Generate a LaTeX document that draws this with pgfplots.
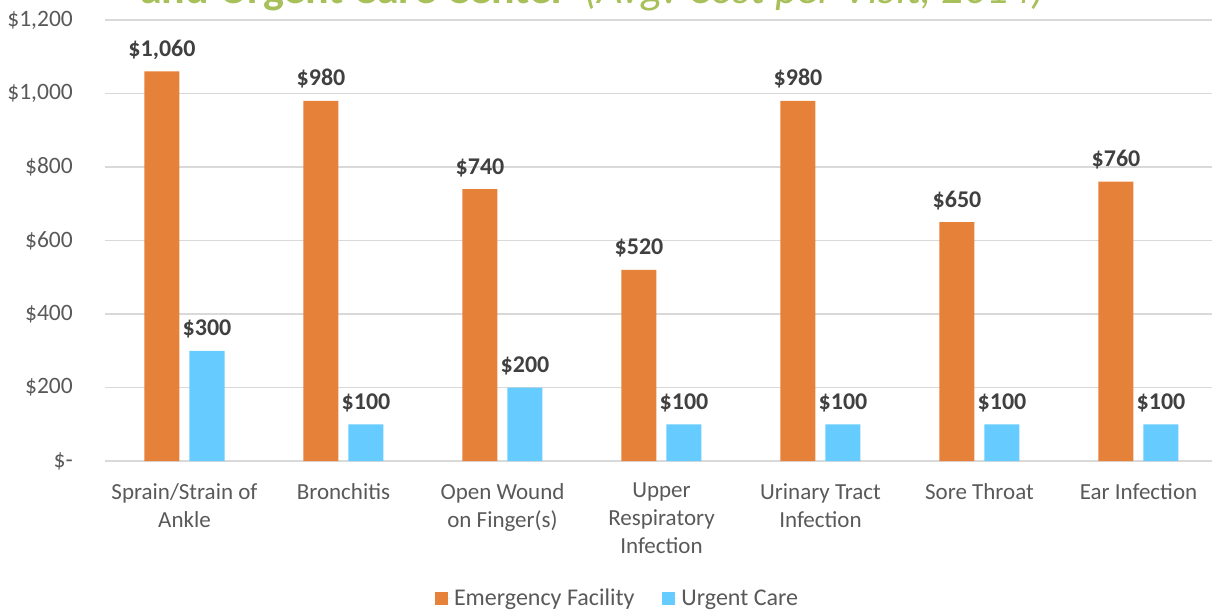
\documentclass[border=0pt]{standalone}
\usepackage{pgfplots}
\pgfplotsset{compat=1.18}
\usepackage{fontspec}
\setmainfont{Carlito}
\definecolor{orng}{HTML}{E6813A}
\definecolor{lblue}{HTML}{66CCFF}
\definecolor{tgray}{HTML}{595959}
\definecolor{lgray}{HTML}{404040}
\definecolor{tgreen}{HTML}{A8C05A}
\definecolor{grid}{HTML}{D9D9D9}
\begin{document}
\begin{tikzpicture}[x=1pt,y=1pt]
\useasboundingbox (0,0) rectangle (1212,611);
\node[anchor=base west, inner sep=0, text=tgreen, font=\fontsize{44}{48}\selectfont] at (140,607)
  {\textbf{and Urgent Care Center\,} \textit{(Avg. Cost per Visit, 2014)\,}};
\begin{axis}[
  at={(105pt,150pt)}, anchor=south west,
  scale only axis, width=1113pt, height=441pt,
  xmin=-0.5, xmax=6.5, ymin=0, ymax=1200,
  ybar=10pt, bar width=35pt,
  axis line style={draw=none},
  major tick length=0pt,
  ymajorgrids, major grid style={draw=grid, line width=1.2pt},
  ytick={0,200,400,600,800,1000,1200},
  yticklabels={\$-,\$200,\$400,\$600,\$800,\$1{,}000,\$1{,}200},
  yticklabel style={font=\fontsize{23.5}{26}\selectfont, text=tgray, inner sep=0pt, anchor=east, xshift=-32pt},
  xtick={0,1,2,3,4,5,6},
  xticklabels={{Sprain/Strain of\\Ankle},{Bronchitis},{Open Wound\\on Finger(s)},{Upper\\Respiratory\\Infection},{Urinary Tract\\Infection},{Sore Throat},{Ear Infection}},
  xticklabel style={font=\fontsize{23}{28}\selectfont, text=tgray, align=center, inner sep=0pt, anchor=north, yshift=-22pt},
  /pgf/number format/assume math mode=true,
  nodes near coords={\$\pgfmathprintnumber[1000 sep={,}]{\pgfplotspointmeta}},
  every node near coord/.append style={font=\bfseries\fontsize{24}{26}\selectfont, text=lgray, inner sep=0pt, anchor=base, yshift=15pt},
  legend style={at={(0.4605,-0.3107)}, anchor=center, draw=none, legend columns=2,
    font=\fontsize{24}{26}\selectfont, text=tgray,
    /tikz/every even column/.append style={column sep=26pt}},
  legend image code/.code={\fill[#1] (0pt,-6.5pt) rectangle (13pt,6.5pt); \path (13pt,0pt) -- (17pt,0pt);},
]
\addplot[fill=orng, draw=none] coordinates {(0,1060) (1,980) (2,740) (3,520) (4,980) (5,650) (6,760)};
\addplot[fill=lblue, draw=none] coordinates {(0,300) (1,100) (2,200) (3,100) (4,100) (5,100) (6,100)};
\legend{Emergency Facility, Urgent Care}
\end{axis}
\end{tikzpicture}
\end{document}
